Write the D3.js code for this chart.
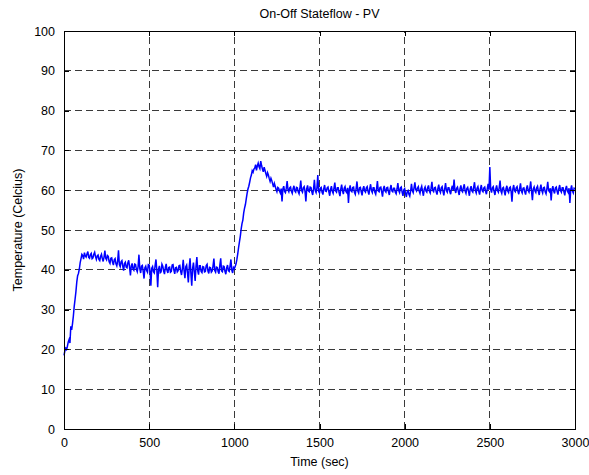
<!DOCTYPE html>
<html>
<head>
<meta charset="utf-8">
<script src="https://cdn.jsdelivr.net/npm/d3@7"></script>
<style>
  html, body { margin: 0; padding: 0; background: #fff; }
  svg { display: block; font-family: "Liberation Sans", Arial, Helvetica, sans-serif; }
</style>
</head>
<body>
<svg id="chart" width="589" height="475"></svg>
<script>
// ---- data ----
const title = "On-Off Stateflow - PV";
const xLabel = "Time (sec)";
const yLabel = "Temperature (Celcius)";
const xTicks = [0, 500, 1000, 1500, 2000, 2500, 3000];
const yTicks = [0, 10, 20, 30, 40, 50, 60, 70, 80, 90, 100];
const sampleStep = 5; // seconds between samples
// temperature, one value every 5 s from t = 0 to t = 3000
const temperature = [
  18.5, 19.6, 20.3, 20.0, 20.8, 21.9, 22.5, 21.6, 25.8, 24.9, 26.5, 28.4, 30.8, 32.6, 34.5, 36.9, 38.5, 39.1, 40.2, 41.8,
  42.8, 43.9, 43.6, 42.7, 44.3, 43.5, 43.2, 44.0, 44.6, 43.1, 42.9, 43.8, 44.1, 42.8, 43.0, 43.9, 44.4, 43.3, 42.6, 43.5,
  43.7, 42.6, 42.3, 43.4, 43.9, 42.8, 42.1, 43.2, 44.8, 42.9, 42.5, 43.6, 43.4, 42.0, 41.6, 42.9, 43.0, 41.9, 41.2, 42.5,
  42.8, 41.5, 41.0, 42.2, 44.9, 41.3, 40.8, 42.0, 42.3, 40.9, 39.8, 41.6, 41.9, 40.7, 40.5, 41.8, 42.4, 40.6, 38.6, 41.0,
  41.6, 40.2, 39.9, 41.4, 41.3, 40.1, 39.5, 40.8, 43.8, 40.3, 39.2, 40.9, 41.1, 39.6, 37.8, 40.5, 40.9, 39.8, 39.4, 41.3,
  41.2, 39.7, 36.0, 40.4, 40.8, 39.5, 39.2, 41.1, 42.6, 39.9, 35.6, 40.2, 41.0, 39.3, 39.5, 41.4, 40.9, 39.7, 38.9, 40.6,
  41.5, 39.8, 39.2, 40.6, 40.7, 39.4, 39.6, 41.2, 41.3, 39.9, 39.0, 40.5, 40.6, 39.5, 39.8, 41.0, 41.1, 39.6, 38.7, 40.3,
  42.5, 39.7, 37.9, 40.8, 41.2, 39.3, 36.8, 40.6, 42.9, 39.1, 36.0, 40.4, 41.8, 39.5, 37.2, 40.9, 43.2, 39.8, 38.8, 41.0,
  41.0, 39.6, 39.3, 40.8, 40.7, 39.5, 39.6, 41.1, 41.4, 39.7, 39.1, 40.6, 40.5, 39.4, 39.7, 41.0, 42.8, 39.8, 39.4, 40.7,
  40.6, 39.5, 39.0, 41.2, 42.9, 39.7, 39.5, 40.9, 40.8, 39.6, 38.9, 40.5, 41.2, 39.8, 39.6, 41.0, 42.6, 39.9, 39.2, 40.6,
  40.3, 40.8, 41.5, 42.6, 44.0, 45.6, 47.0, 48.4, 50.2, 51.6, 52.5, 54.3, 55.5, 56.4, 57.8, 59.2, 60.3, 61.0, 62.0, 63.1,
  63.8, 64.9, 64.5, 65.3, 65.6, 66.4, 65.0, 66.1, 66.8, 65.9, 65.4, 67.3, 66.2, 65.3, 64.6, 65.8, 65.0, 64.2, 63.5, 64.4,
  63.8, 62.9, 62.2, 63.0, 62.4, 61.6, 60.8, 61.7, 61.0, 60.2, 59.6, 60.7, 60.5, 59.8, 59.3, 60.4, 57.2, 60.3, 61.0, 59.7,
  59.4, 60.5, 62.3, 60.1, 59.6, 60.6, 60.8, 59.7, 59.2, 60.4, 61.1, 59.8, 59.5, 60.7, 60.6, 59.6, 59.1, 60.5, 62.4, 59.9,
  59.5, 60.6, 60.9, 59.7, 57.2, 60.4, 61.2, 59.8, 59.6, 60.8, 60.7, 59.6, 58.8, 60.3, 62.6, 59.9, 59.4, 60.6, 63.8, 59.7,
  59.3, 60.5, 60.7, 59.5, 58.9, 60.4, 61.3, 59.8, 59.7, 60.6, 60.8, 59.6, 58.6, 60.2, 61.0, 59.7, 59.2, 60.5, 61.9, 59.8,
  59.5, 60.6, 60.6, 59.4, 58.5, 60.3, 61.4, 59.9, 59.0, 60.5, 60.9, 59.7, 59.4, 60.6, 56.8, 60.2, 61.2, 59.8, 59.6, 60.7,
  60.8, 59.5, 59.0, 60.4, 62.2, 59.8, 59.3, 60.6, 60.7, 59.6, 58.7, 60.3, 61.0, 59.8, 59.5, 60.6, 60.9, 59.7, 58.9, 60.4,
  61.5, 59.9, 59.4, 60.6, 60.6, 59.5, 59.0, 60.4, 62.3, 59.8, 59.6, 60.7, 60.8, 59.6, 58.4, 60.3, 61.1, 59.8, 59.5, 60.6,
  60.7, 59.6, 58.8, 60.4, 61.3, 59.8, 59.6, 60.5, 60.5, 59.5, 59.1, 60.3, 61.8, 59.9, 59.4, 60.6, 60.8, 59.5, 58.6, 60.1,
  60.4, 59.2, 58.3, 59.6, 59.9, 59.0, 58.5, 59.8, 61.6, 59.9, 59.4, 60.6, 62.0, 60.2, 59.8, 60.5, 60.9, 59.8, 59.2, 60.4,
  61.0, 59.7, 58.6, 60.3, 60.8, 59.8, 59.5, 60.6, 61.2, 59.8, 59.3, 60.5, 62.1, 59.9, 59.6, 60.6, 60.7, 59.6, 58.9, 60.4,
  61.4, 59.9, 59.4, 60.6, 60.9, 59.7, 58.7, 60.3, 61.8, 59.9, 59.5, 60.6, 60.6, 59.6, 59.0, 60.4, 61.1, 60.0, 62.7, 60.1,
  59.3, 60.5, 60.8, 59.7, 58.8, 60.4, 61.2, 59.9, 59.6, 60.7, 61.5, 59.8, 59.2, 60.4, 60.7, 59.7, 58.6, 60.3, 61.0, 59.8,
  59.5, 60.7, 62.0, 59.9, 59.3, 60.5, 60.9, 59.7, 58.9, 60.4, 61.3, 59.9, 59.6, 60.6, 60.8, 59.7, 59.0, 60.4, 61.6, 60.1,
  65.8, 60.2, 59.4, 60.6, 60.9, 59.7, 58.8, 60.3, 61.2, 59.9, 59.5, 60.6, 62.4, 59.8, 59.2, 60.5, 60.7, 59.6, 58.7, 60.4,
  61.1, 59.8, 59.4, 60.6, 60.8, 59.7, 57.1, 60.3, 61.3, 59.9, 59.6, 60.6, 60.9, 59.7, 59.0, 60.4, 61.7, 59.8, 59.3, 60.5,
  60.6, 59.6, 58.9, 60.4, 61.2, 59.9, 59.5, 60.6, 62.2, 59.7, 57.5, 60.3, 60.8, 59.8, 59.4, 60.6, 61.0, 59.7, 58.8, 60.4,
  61.4, 59.9, 59.3, 60.6, 60.7, 59.6, 59.1, 60.4, 62.1, 59.9, 59.6, 60.5, 57.4, 60.2, 61.0, 59.8, 59.2, 60.6, 60.8, 59.7,
  58.9, 60.4, 61.3, 59.9, 59.5, 60.6, 60.6, 59.6, 58.7, 60.3, 61.1, 59.8, 59.4, 60.5, 56.8, 60.2, 61.2, 59.8, 59.3, 60.5,
  60.4
];

// ---- layout ----
const svg = d3.select("#chart");
const mLeft = 64, mRight = 575, mTop = 31, mBottom = 429;

svg.append("rect").attr("width", 589).attr("height", 475).attr("fill", "#fff");

const x = d3.scaleLinear().domain([0, 3000]).range([mLeft, mRight]);
const y = d3.scaleLinear().domain([0, 100]).range([mBottom, mTop]);

// grid
const grid = svg.append("g").attr("stroke", "#3a3a3a").attr("stroke-width", 1)
  .attr("stroke-dasharray", "7,4").attr("shape-rendering", "crispEdges");
grid.selectAll("line.gx").data(xTicks.slice(1, -1)).enter().append("line")
  .attr("x1", d => x(d)).attr("x2", d => x(d)).attr("y1", mBottom).attr("y2", mTop);
grid.selectAll("line.gy").data(yTicks.slice(1, -1)).enter().append("line")
  .attr("y1", d => y(d)).attr("y2", d => y(d)).attr("x1", mLeft).attr("x2", mRight);

// data line
const line = d3.line()
  .x((d, i) => x(i * sampleStep))
  .y(d => y(d));
svg.append("path").datum(temperature)
  .attr("d", line)
  .attr("fill", "none")
  .attr("stroke", "#0000ff")
  .attr("stroke-width", 1.5)
  .attr("stroke-linejoin", "miter");

// axes (MATLAB-like box, inward ticks)
const fmt = d3.format("d");
const axB = d3.axisBottom(x).tickValues(xTicks).tickFormat(fmt).tickSizeInner(-5).tickSizeOuter(0).tickPadding(9);
const axT = d3.axisTop(x).tickValues(xTicks).tickFormat("").tickSizeInner(-5).tickSizeOuter(0);
const axL = d3.axisLeft(y).tickValues(yTicks).tickFormat(fmt).tickSizeInner(-5).tickSizeOuter(0).tickPadding(9);
const axR = d3.axisRight(y).tickValues(yTicks).tickFormat("").tickSizeInner(-5).tickSizeOuter(0);

function styleAxis(g) {
  g.selectAll("path").attr("stroke", "#000").attr("stroke-width", 1.3);
  g.selectAll("line").attr("stroke", "#000");
  g.selectAll("text").attr("fill", "#000").attr("font-size", 12.5)
    .attr("font-family", "'Liberation Sans', Arial, sans-serif");
  g.attr("shape-rendering", "crispEdges");
}
svg.append("g").attr("transform", `translate(0,${mBottom})`).call(axB).call(styleAxis);
svg.append("g").attr("transform", `translate(0,${mTop})`).call(axT).call(styleAxis);
svg.append("g").attr("transform", `translate(${mLeft},0)`).call(axL).call(styleAxis);
svg.append("g").attr("transform", `translate(${mRight},0)`).call(axR).call(styleAxis);

// titles
svg.append("text").attr("x", (mLeft + mRight) / 2).attr("y", 18)
  .attr("text-anchor", "middle").attr("font-size", 12.5).text(title);
svg.append("text").attr("x", (mLeft + mRight) / 2).attr("y", 466)
  .attr("text-anchor", "middle").attr("font-size", 12.5).text(xLabel);
svg.append("text").attr("transform", `translate(22,${(mTop + mBottom) / 2}) rotate(-90)`)
  .attr("text-anchor", "middle").attr("font-size", 12.5).text(yLabel);
</script>
</body>
</html>
